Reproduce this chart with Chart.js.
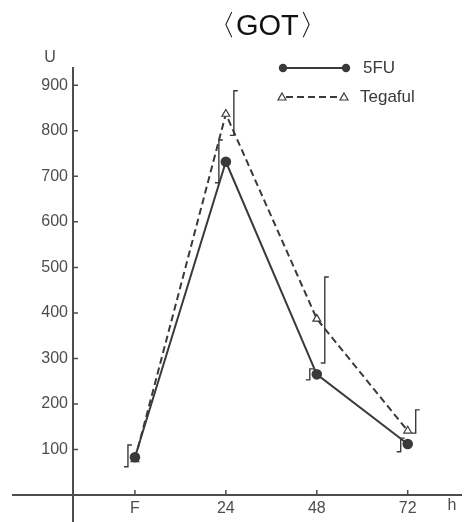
<!DOCTYPE html>
<html><head><meta charset="utf-8">
<script src="https://cdn.jsdelivr.net/npm/chart.js@4"></script>
<style>html,body{margin:0;padding:0;background:#fff}#wrap{width:468px;height:522px}</style>
</head><body><div id="wrap"><canvas id="c" width="468" height="522"></canvas></div>
<script>
// ---- data ----
const categories = ['F', '24', '48', '72'];
const hours = [0, 24, 48, 72];
const fuValues = [83, 732, 265, 112];
const tegValues = [78, 837, 387, 141];
const fuErrLow = [62, 686, 253, 95];
const fuErrHigh = [110, 780, 277, 125];
const tegErrLow = [null, 790, 290, 136];
const tegErrHigh = [null, 888, 479, 187];
const yTickValues = [100, 200, 300, 400, 500, 600, 700, 800, 900];
const seriesNames = ['5FU', 'Tegaful'];

const ink = '#3a3a3a';
const axisInk = '#4d4d4d';
const fontFam = '"Liberation Sans", Arial, sans-serif';

const deco = {
  id: 'deco',
  afterDatasetsDraw(chart) {
    const {ctx, scales: {x, y}} = chart;
    ctx.save();
    ctx.strokeStyle = ink;
    ctx.lineWidth = 1.4;
    const bracket = (i, lo, hi, off) => {
      if (lo[i] == null) return;
      const px = x.getPixelForValue(hours[i]) + off;
      const pt = y.getPixelForValue(hi[i]);
      const pb = y.getPixelForValue(lo[i]);
      ctx.beginPath();
      ctx.moveTo(px + 4, pt); ctx.lineTo(px, pt); ctx.lineTo(px, pb); ctx.lineTo(px - 4, pb);
      ctx.stroke();
    };
    hours.forEach((h, i) => { bracket(i, fuErrLow, fuErrHigh, -7); bracket(i, tegErrLow, tegErrHigh, 8); });
    ctx.restore();
  },
  afterDraw(chart) {
    const {ctx, chartArea: a, scales: {x, y}} = chart;
    ctx.save();
    ctx.strokeStyle = axisInk;
    ctx.lineWidth = 2;
    ctx.beginPath();
    ctx.moveTo(12, a.bottom); ctx.lineTo(a.left, a.bottom);
    ctx.moveTo(a.left, a.bottom); ctx.lineTo(a.left, chart.height);
    ctx.stroke();
    ctx.lineWidth = 1.5;
    ctx.beginPath();
    y.ticks.forEach(t => { const py = y.getPixelForValue(t.value); ctx.moveTo(a.left, py); ctx.lineTo(a.left + 5, py); });
    x.ticks.forEach(t => { const px = x.getPixelForValue(t.value); ctx.moveTo(px, a.bottom); ctx.lineTo(px, a.bottom - 5); });
    ctx.stroke();

    // axis unit labels
    ctx.fillStyle = axisInk;
    ctx.font = '16px ' + fontFam;
    ctx.textAlign = 'center'; ctx.textBaseline = 'middle';
    ctx.fillText('U', 50, 58);
    ctx.fillText('h', 452, 506);

    // legend
    const ds = chart.data.datasets;
    ctx.font = '17px ' + fontFam;
    ctx.textAlign = 'left';
    ctx.fillStyle = ink;
    // 5FU row
    ctx.strokeStyle = ink; ctx.lineWidth = 2; ctx.setLineDash([]);
    ctx.beginPath(); ctx.moveTo(283, 68); ctx.lineTo(346, 68); ctx.stroke();
    [283, 346].forEach(cx => { ctx.beginPath(); ctx.arc(cx, 68, 4.2, 0, Math.PI * 2); ctx.fill(); });
    ctx.fillText(ds[0].label, 363, 68);
    // Tegaful row
    ctx.setLineDash([7, 4]); ctx.lineWidth = 1.8;
    ctx.beginPath(); ctx.moveTo(286, 97); ctx.lineTo(340, 97); ctx.stroke();
    ctx.setLineDash([]); ctx.lineWidth = 1.2;
    [282, 344].forEach(cx => {
      ctx.beginPath(); ctx.moveTo(cx, 93); ctx.lineTo(cx + 4, 100); ctx.lineTo(cx - 4, 100); ctx.closePath();
      ctx.fillStyle = '#fff'; ctx.fill(); ctx.stroke();
    });
    ctx.fillStyle = ink;
    ctx.fillText(ds[1].label, 360, 97);
    ctx.restore();
  }
};

new Chart(document.getElementById('c'), {
  type: 'line',
  data: {
    datasets: [
      {
        label: seriesNames[0],
        data: hours.map((h, i) => ({x: h, y: fuValues[i]})),
        borderColor: ink, backgroundColor: ink, borderWidth: 2,
        pointRadius: 4.3, pointStyle: 'circle', pointBackgroundColor: ink, pointBorderColor: ink,
        tension: 0, fill: false
      },
      {
        label: seriesNames[1],
        data: hours.map((h, i) => ({x: h, y: tegValues[i]})),
        borderColor: ink, backgroundColor: '#fff', borderWidth: 2, borderDash: [7, 4],
        pointRadius: 4.5, pointStyle: 'triangle', pointBackgroundColor: '#fff', pointBorderColor: ink, pointBorderWidth: 1.2,
        tension: 0, fill: false
      }
    ]
  },
  options: {
    responsive: false, animation: false, devicePixelRatio: 1,
    layout: {padding: 0},
    plugins: {
      legend: {display: false},
      tooltip: {enabled: false},
      title: {
        display: true, text: '〈GOT〉', fullSize: false,
        color: '#111', font: {size: 29, family: fontFam, weight: 'normal', lineHeight: 1.2},
        padding: {top: 10, bottom: 23.2}
      }
    },
    scales: {
      x: {
        type: 'linear', min: -16.35, max: 86.25,
        afterBuildTicks: s => { s.ticks = hours.map(v => ({value: v})); },
        afterFit: s => { s.height = 27; },
        ticks: {
          callback: (v) => { const i = hours.indexOf(v); return i >= 0 ? categories[i] : ''; },
          color: axisInk, font: {size: 16, family: fontFam}, padding: 4, maxRotation: 0, autoSkip: false
        },
        grid: {display: true, drawOnChartArea: false, drawTicks: false},
        border: {display: true, color: axisInk, width: 2}
      },
      y: {
        type: 'linear', min: 0, max: 938,
        afterBuildTicks: s => { s.ticks = yTickValues.map(v => ({value: v})); },
        afterFit: s => { s.width = 73; },
        ticks: {color: axisInk, font: {size: 16, family: fontFam}, padding: 5, autoSkip: false},
        grid: {display: true, drawOnChartArea: false, drawTicks: false},
        border: {display: true, color: axisInk, width: 2}
      }
    }
  },
  plugins: [deco]
});
</script>
</body></html>
